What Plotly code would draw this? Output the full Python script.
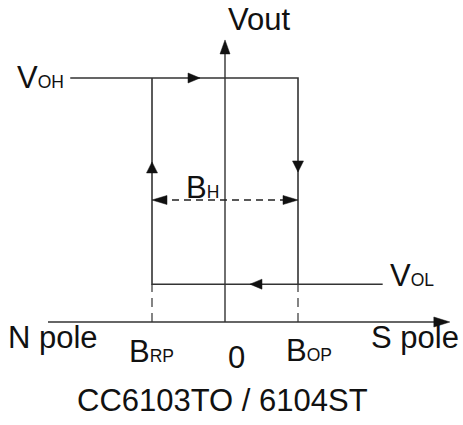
import plotly.graph_objects as go

# ---- Data (logical units: B in units of |B_OP|, Vout in units of V_OH) ----
B_RP = -1.0
B_OP = 1.0
V_OH = 1.0
V_OL = 0.155
B_LEFT = -2.12     # start of the V_OH branch
B_RIGHT = 2.16     # end of the V_OL branch
BH_LEVEL = 0.5     # height of the hysteresis (B_H) marker
H_AXIS = [-2.425, 3.08]   # extent of the B axis
V_AXIS_TOP = 1.156        # extent of the Vout axis
TOP_ARROW_B = -0.342
BOT_ARROW_B = 0.342
UP_ARROW_V = 0.656
DOWN_ARROW_V = 0.615

LABEL_VOUT = "Vout"
LABEL_VOH = ("V", "OH")
LABEL_VOL = ("V", "OL")
LABEL_BH = ("B", "H")
LABEL_BRP = ("B", "RP")
LABEL_BOP = ("B", "OP")
LABEL_ZERO = "0"
LABEL_N = "N pole"
LABEL_S = "S pole"
TITLE = "CC6103TO / 6104ST"

# ---- Layout / scale ----
W, H = 463, 425
PX_X, PX_Y = 73.0, 244.0      # pixels per unit
X0_PX, Y0_PX = 225, 322       # origin pixel
x_range = [-X0_PX / PX_X, (W - X0_PX) / PX_X]
y_range = [-(H - Y0_PX) / PX_Y, Y0_PX / PX_Y]

LINE = "#333333"
TXT = "#111111"
FONT = "Liberation Sans, Arial, sans-serif"
BIG, SMALL = 31, 17.5


def dxp(px):
    return px / PX_X


def dyp(px):
    return px / PX_Y


def tri(tx, ty, direction, L, Wd):
    if direction == "right":
        pts = [(tx, ty), (tx - dxp(L), ty + dyp(Wd / 2)), (tx - dxp(L), ty - dyp(Wd / 2))]
    elif direction == "left":
        pts = [(tx, ty), (tx + dxp(L), ty + dyp(Wd / 2)), (tx + dxp(L), ty - dyp(Wd / 2))]
    elif direction == "up":
        pts = [(tx, ty), (tx - dxp(Wd / 2), ty - dyp(L)), (tx + dxp(Wd / 2), ty - dyp(L))]
    else:
        pts = [(tx, ty), (tx - dxp(Wd / 2), ty + dyp(L)), (tx + dxp(Wd / 2), ty + dyp(L))]
    pts.append(pts[0])
    return [p[0] for p in pts] + [None], [p[1] for p in pts] + [None]


fig = go.Figure()

# axes
fig.add_trace(go.Scatter(x=[H_AXIS[0], H_AXIS[1] - dxp(4), None, 0, 0],
                         y=[0, 0, None, 0, V_AXIS_TOP - dyp(4)],
                         mode="lines", line=dict(color=LINE, width=1.4),
                         hoverinfo="skip", showlegend=False))
# hysteresis loop
fig.add_trace(go.Scatter(x=[B_LEFT, B_OP, B_OP, None, B_RIGHT, B_RP, B_RP],
                         y=[V_OH, V_OH, V_OL, None, V_OL, V_OL, V_OH],
                         mode="lines", line=dict(color=LINE, width=1.6),
                         hoverinfo="skip", showlegend=False))
# dashed projections to the B axis
fig.add_trace(go.Scatter(x=[B_RP, B_RP, None, B_OP, B_OP],
                         y=[0, V_OL, None, 0, V_OL],
                         mode="lines", line=dict(color=LINE, width=1.2, dash="9px,6px"),
                         hoverinfo="skip", showlegend=False))
# B_H dashed marker
fig.add_trace(go.Scatter(x=[B_RP + dxp(8), B_OP - dxp(8)], y=[BH_LEVEL, BH_LEVEL],
                         mode="lines", line=dict(color="#222222", width=1.4, dash="7px,5px"),
                         hoverinfo="skip", showlegend=False))

# arrow heads
ax, ay = [], []
for args in [
    (H_AXIS[1], 0, "right", 16, 10),
    (0, V_AXIS_TOP, "up", 14, 10),
    (TOP_ARROW_B, V_OH, "right", 12, 10),
    (BOT_ARROW_B, V_OL, "left", 12, 10),
    (B_RP, UP_ARROW_V, "up", 11, 11),
    (B_OP, DOWN_ARROW_V, "down", 11, 11),
    (B_RP, BH_LEVEL, "left", 15, 9),
    (B_OP, BH_LEVEL, "right", 15, 9),
]:
    a, b = tri(*args)
    ax += a
    ay += b
fig.add_trace(go.Scatter(x=ax, y=ay, mode="lines", fill="toself",
                         fillcolor="#111111", line=dict(color="#111111", width=0.5),
                         hoverinfo="skip", showlegend=False))


def sub(parts):
    return f"{parts[0]}<span style='font-size:{SMALL}px'>{parts[1]}</span>"


def ann(text, x, y, xs, ys, xanchor="center"):
    fig.add_annotation(text=text, x=x, y=y, xref="x", yref="y", showarrow=False,
                       xanchor=xanchor, yanchor="middle", xshift=xs, yshift=ys,
                       borderpad=0, borderwidth=0,
                       font=dict(family=FONT, size=BIG, color=TXT))


ann(LABEL_VOUT, 0, V_AXIS_TOP, 33.5, 20)
ann(sub(LABEL_VOH), B_LEFT, V_OH, -6, 1, "right")
ann(sub(LABEL_VOL), B_RIGHT, V_OL, 7, 9, "left")
ann(sub(LABEL_BH), (B_RP + B_OP) / 2, BH_LEVEL, -23, 13)
ann(sub(LABEL_BRP), B_RP, 0, -1, -29)
ann(LABEL_ZERO, 0, 0, 11.5, -35)
ann(sub(LABEL_BOP), B_OP, 0, 10.5, -28)
ann(LABEL_N, H_AXIS[0], 0, 5.5, -15)
ann(LABEL_S, H_AXIS[1], 0, -35, -15)
ann(TITLE, 0, 0, -2.5, -78)

fig.update_layout(width=W, height=H, autosize=False,
                  margin=dict(l=0, r=0, t=0, b=0),
                  paper_bgcolor="white", plot_bgcolor="white",
                  xaxis=dict(range=x_range, visible=False, fixedrange=True),
                  yaxis=dict(range=y_range, visible=False, fixedrange=True),
                  showlegend=False, hovermode=False)

fig.write_html("out.html", config={"displayModeBar": False, "staticPlot": True},
               post_script="document.body.style.margin='0';document.body.style.overflow='hidden';")
